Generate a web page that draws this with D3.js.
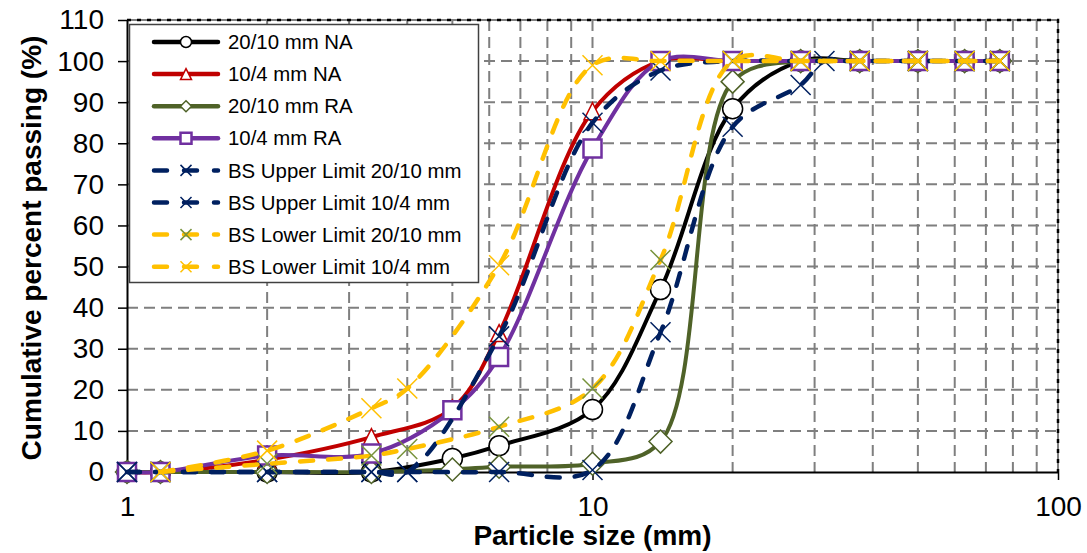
<!DOCTYPE html>
<html>
<head>
<meta charset="utf-8">
<script src="https://cdn.jsdelivr.net/npm/d3@7"></script>
<style>
  body { margin: 0; background: #fff; }
  text { font-family: "Liberation Sans", Arial, sans-serif; }
</style>
</head>
<body>
<svg id="chart" width="1087" height="553"></svg>
<script>
// sieve sizes (mm) and percent passing
const sievesMain = [1, 1.18, 2, 3.35, 5, 6.3, 10, 14, 20, 28, 37.5, 50, 63, 75];
const na2010 = [0, 0, 0, 0, 3.3, 6.4, 15.2, 44.4, 88.4, 100, 100, 100, 100, 100];
const na104 = [0, 0, 3, 8.5, 15.5, 33.8, 87.8, 100, 100, 100, 100, 100, 100, 100];
const ra2010 = [0, 0, 0, 0, 0.6, 1.3, 2, 7.4, 95, 100, 100, 100, 100, 100];
const ra104 = [0, 0, 4, 4.5, 15, 28, 78.7, 100, 100, 100, 100, 100, 100, 100];

const sievesUpper2010 = [1, 1.18, 2, 3.35, 4, 6.3, 10, 14, 20, 28, 31.5, 37.5, 50, 63, 75];
const upper2010 = [0, 0, 0, 0, 0, 0, 0.5, 34, 84, 94.2, 100, 100, 100, 100, 100];
const sievesUpper104 = [1, 1.18, 2, 3.35, 4, 6.3, 10, 14, 20, 28, 37.5, 50, 63, 75];
const upper104 = [0, 0, 0, 0, 0, 33, 85, 97.7, 100, 100, 100, 100, 100, 100];

const sievesLower = [1.18, 2, 3.35, 4, 6.3, 10, 14, 20, 28, 37.5, 50, 63, 75];
const lower2010 = [0, 2, 4, 5.6, 11, 20.3, 51.6, 100, 100, 100, 100, 100, 100];
const lower104 = [0, 5.2, 15.5, 20.3, 50.3, 99, 100, 100, 100, 100, 100, 100, 100];

const xTicks = [1, 10, 100];
const xGrid = [2, 3, 4, 5, 6, 7, 8, 9, 10, 20, 30, 40, 50, 60, 70, 80, 90];
const yTicks = [0, 10, 20, 30, 40, 50, 60, 70, 80, 90, 100, 110];

const series = [
  { name: "20/10 mm NA", xs: sievesMain, ys: na2010, color: "#000000", dashed: false,
    marker: "circle", size: 20, mColor: "#000000", mWidth: 1.5 },
  { name: "10/4 mm NA", xs: sievesMain, ys: na104, color: "#c00000", dashed: false,
    marker: "triangle", size: 17, mColor: "#c00000", mWidth: 1.5 },
  { name: "20/10 mm RA", xs: sievesMain, ys: ra2010, color: "#4f6228", dashed: false,
    marker: "diamond", size: 23, mColor: "#4f6228", mWidth: 1.5 },
  { name: "10/4 mm RA", xs: sievesMain, ys: ra104, color: "#7030a0", dashed: false,
    marker: "square", size: 18, mColor: "#7030a0", mWidth: 2.5 },
  { name: "BS Upper Limit 20/10 mm", xs: sievesUpper2010, ys: upper2010, color: "#002060", dashed: true,
    marker: "cross", size: 20, mColor: "#002060", mWidth: 1.5 },
  { name: "BS Upper Limit 10/4 mm", xs: sievesUpper104, ys: upper104, color: "#002060", dashed: true,
    marker: "cross", size: 20, mColor: "#002060", mWidth: 1.5 },
  { name: "BS Lower Limit 20/10 mm", xs: sievesLower, ys: lower2010, color: "#ffc000", dashed: true,
    marker: "cross", size: 20, mColor: "#77933c", mWidth: 1.5 },
  { name: "BS Lower Limit 10/4 mm", xs: sievesLower, ys: lower104, color: "#ffc000", dashed: true,
    marker: "cross", size: 20, mColor: "#ffc000", mWidth: 1.5 }
];

const pLeft = 127, pRight = 1058, pTop = 20, pBottom = 472;
const x = d3.scaleLog().domain([1, 100]).range([pLeft, pRight]);
const y = d3.scaleLinear().domain([0, 110]).range([pBottom, pTop]);

const svg = d3.select("#chart");

// gridlines
const grid = svg.append("g").attr("stroke", "#7f7f7f").attr("stroke-width", 2)
  .attr("stroke-dasharray", "11,6");
grid.selectAll("line.gx").data(xGrid).enter().append("line")
  .attr("class", "gx")
  .attr("x1", d => x(d)).attr("x2", d => x(d))
  .attr("y1", pTop).attr("y2", pBottom);
grid.selectAll("line.gy").data(yTicks.filter(d => d > 0)).enter().append("line")
  .attr("class", "gy")
  .attr("x1", pLeft).attr("x2", pRight)
  .attr("y1", d => y(d)).attr("y2", d => y(d));

// plot border, top and right dashed dark
svg.append("path")
  .attr("d", `M${pLeft},${pTop}H${pRight}V${pBottom}`)
  .attr("fill", "none").attr("stroke", "#7f7f7f").attr("stroke-width", 2);
svg.append("path")
  .attr("d", `M${pLeft},${pTop}H${pRight}V${pBottom}`)
  .attr("fill", "none").attr("stroke", "#000").attr("stroke-width", 2.5)
  .attr("stroke-dasharray", "4,6");

// axes
const yAxis = svg.append("g").attr("transform", `translate(${pLeft},0)`)
  .call(d3.axisLeft(y).tickValues(yTicks).tickSize(9).tickPadding(14).tickSizeOuter(0));
const xAxis = svg.append("g").attr("transform", `translate(0,${pBottom})`)
  .call(d3.axisBottom(x).tickValues(xTicks).tickFormat(d3.format("d")).tickSize(8).tickPadding(16).tickSizeOuter(0));
[yAxis, xAxis].forEach(a => {
  a.select(".domain").attr("stroke", "#000").attr("stroke-width", 2);
  a.selectAll(".tick line").attr("stroke", "#000").attr("stroke-width", 1.5);
  a.selectAll(".tick text").attr("font-size", 28).attr("fill", "#000")
    .style("font-family", '"Liberation Sans", Arial, sans-serif');
});

// axis titles
svg.append("text")
  .attr("transform", `translate(41,${(pTop + pBottom) / 2 + 2}) rotate(-90)`)
  .attr("text-anchor", "middle").attr("font-size", 28).attr("font-weight", "bold")
  .text("Cumulative percent passing (%)");
svg.append("text")
  .attr("x", x(10)).attr("y", 545)
  .attr("text-anchor", "middle").attr("font-size", 28).attr("font-weight", "bold")
  .text("Particle size (mm)");

function markerPath(type, s) {
  const h = s / 2;
  if (type === "circle") return d3.symbol(d3.symbolCircle, Math.PI * h * h)();
  if (type === "triangle") return `M0,${-h}L${h},${h}L${-h},${h}Z`;
  if (type === "diamond") return `M0,${-h}L${h},0L0,${h}L${-h},0Z`;
  if (type === "square") return `M${-h},${-h}H${h}V${h}H${-h}Z`;
  return `M${-h},${-h}L${h},${h}M${h},${-h}L${-h},${h}`;
}

// centripetal catmull-rom keeps the curve close to Excel's smoothing
const line = d3.line().curve(d3.curveCatmullRom.alpha(0.5));

series.forEach(s => {
  const pts = s.xs.map((v, i) => [x(v), y(s.ys[i])]);
  const g = svg.append("g");
  g.append("path")
    .attr("d", line(pts))
    .attr("fill", "none")
    .attr("stroke", s.color)
    .attr("stroke-width", s.dashed ? 4.5 : 4)
    .attr("stroke-linecap", "round")
    .attr("stroke-dasharray", s.dashed ? "13,15" : null);
  g.selectAll("path.m").data(pts).enter().append("path")
    .attr("class", "m")
    .attr("transform", d => `translate(${d[0]},${d[1]})`)
    .attr("d", markerPath(s.marker, s.size))
    .attr("fill", s.marker === "cross" ? "none" : "#fff")
    .attr("stroke", s.mColor)
    .attr("stroke-width", s.mWidth);
});

// legend
const lg = svg.append("g");
lg.append("rect")
  .attr("x", 129.5).attr("y", 24.5).attr("width", 349).attr("height", 258)
  .attr("fill", "#fff").attr("stroke", "#404040").attr("stroke-width", 1.5);
series.forEach((s, i) => {
  const cy = 42 + i * 32.1;
  const row = lg.append("g").attr("transform", `translate(0,${cy})`);
  row.append("line")
    .attr("x1", 154).attr("x2", 218).attr("y1", 0).attr("y2", 0)
    .attr("stroke", s.color).attr("stroke-width", 4.5)
    .attr("stroke-linecap", "round")
    .attr("stroke-dasharray", s.dashed ? "13,17" : null);
  row.append("path")
    .attr("transform", "translate(186,0)")
    .attr("d", markerPath(s.marker, 11))
    .attr("fill", s.marker === "cross" ? "none" : "#fff")
    .attr("stroke", s.mColor)
    .attr("stroke-width", s.marker === "square" ? 2.5 : 1.5);
  row.append("text")
    .attr("x", 228).attr("y", 0).attr("dy", "0.35em")
    .attr("font-size", 20.4).attr("fill", "#000")
    .text(s.name);
});
</script>
</body>
</html>
